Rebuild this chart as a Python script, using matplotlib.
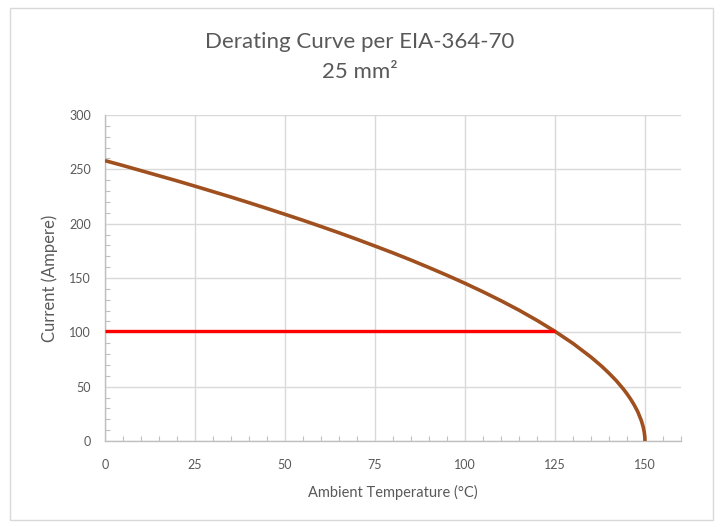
import numpy as np
import matplotlib
matplotlib.use("Agg")
import matplotlib.pyplot as plt
from matplotlib.ticker import MultipleLocator
from matplotlib.patches import Rectangle

# derating curve
temp_c = [0, 5, 10, 15, 20, 25, 30, 35, 40, 45, 50, 55, 60, 65, 70, 75, 80, 85, 90, 95,
          100, 105, 110, 115, 120, 125, 130, 135, 138, 140, 142, 144, 145, 146, 147, 148,
          149, 149.5, 149.8, 149.95, 150]
current_a = [258, 253.5, 248.8, 244.1, 239.4, 234.5, 229.5, 224.5, 219.3, 214.0, 208.6,
             203.1, 197.4, 191.6, 185.6, 179.4, 173.1, 166.5, 159.6, 152.5, 145.1, 137.3,
             129.1, 120.4, 111.0, 100.9, 89.8, 77.2, 68.7, 62.4, 55.6, 47.8, 43.4, 38.6,
             33.2, 26.9, 18.7, 13.0, 8.0, 3.9, 0]

# rated-current marker line
marker_t = [0, 125]
marker_i = [101, 101]

TEXT = "#595959"
GRID = "#D9D9D9"

plt.rcParams["font.family"] = ["Lato", "DejaVu Sans"]

fig = plt.figure(figsize=(7.2, 5.27), dpi=100)
fig.patches.append(Rectangle((0.014, 0.013), 0.976, 0.972, transform=fig.transFigure,
                             fill=False, edgecolor="#D9D9D9", lw=1))

ax = fig.add_axes([0.1458, 0.1632, 0.80, 0.6186])
ax.plot(temp_c, current_a, color="#A0501E", lw=2.6, solid_capstyle="butt",
        solid_joinstyle="round", zorder=3)
ax.plot(marker_t, marker_i, color="#FF0000", lw=2.4, solid_capstyle="butt", zorder=4)

ax.set_xlim(0, 160)
ax.set_ylim(0, 300)
ax.xaxis.set_major_locator(MultipleLocator(25))
ax.xaxis.set_minor_locator(MultipleLocator(5))
ax.yaxis.set_major_locator(MultipleLocator(50))
ax.yaxis.set_minor_locator(MultipleLocator(10))
ax.grid(True, which="major", color=GRID, lw=1)
ax.set_axisbelow(True)

ax.tick_params(which="major", length=0, labelsize=9, colors=TEXT)
ax.tick_params(axis="x", which="major", pad=13)
ax.tick_params(axis="y", which="major", pad=10)
ax.tick_params(which="minor", direction="in", length=3.5, color="#BFBFBF", width=0.8)

for s in ("top", "right"):
    ax.spines[s].set_visible(False)
for s in ("left", "bottom"):
    ax.spines[s].set_color("#BFBFBF")
    ax.spines[s].set_linewidth(1)

ax.set_xlabel("Ambient Temperature (°C)", fontsize=10.5, color=TEXT, labelpad=10)
ax.set_ylabel("Current (Ampere)", fontsize=12, color=TEXT, labelpad=8)

fig.text(0.5, 0.92, "Derating Curve per EIA-364-70", ha="center", va="center",
         fontsize=16, color=TEXT)
fig.text(0.5, 0.863, "25 mm²", ha="center", va="center", fontsize=16, color=TEXT)

fig.savefig("out.png", dpi=100)
